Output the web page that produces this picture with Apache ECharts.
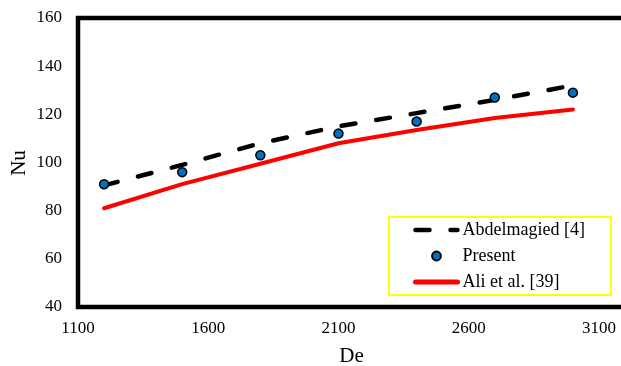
<!DOCTYPE html>
<html>
<head>
<meta charset="utf-8">
<script src="https://cdn.jsdelivr.net/npm/echarts@6/dist/echarts.min.js"></script>
<style>
    html, body { margin: 0; padding: 0; background: #fff; }
    #chart { width: 621px; height: 366px; }
</style>
</head>
<body>
<div id="chart"></div>
<script>
// Nu against De
var deValues = [1200, 1500, 1800, 2100, 2400, 2700, 3000];
var abdelmagied = [90.5, 99, 108, 115, 120.5, 126, 132];
var present = [91, 96, 103, 112, 117, 127, 129];
var aliEtAl = [81, 91, 99.5, 108, 113.5, 118.5, 122];
var seriesNames = ['Abdelmagied [4]', 'Present', 'Ali et al. [39]'];

function pairs(ys) {
    return deValues.map(function (x, i) {
        return [x, ys[i]];
    });
}

var font = 'Liberation Serif';
var myChart = echarts.init(document.getElementById('chart'));
var option = {
    animation: false,
    grid: {
        left: 78,
        top: 18,
        right: -4,
        bottom: 59,
        outerBoundsMode: 'none',
        containLabel: false,
        show: true,
        borderColor: '#000',
        borderWidth: 4.5,
        backgroundColor: '#fff'
    },
    // y axis title, placed by hand
    graphic: [{
        type: 'text',
        x: 19,
        y: 163,
        rotation: Math.PI / 2,
        style: {
            text: 'Nu',
            fontFamily: font,
            fontSize: 21,
            fill: '#000',
            align: 'center',
            verticalAlign: 'middle'
        }
    }],
    legend: {
        orient: 'vertical',
        left: 389,
        top: 217,
        data: [
            { name: seriesNames[0], itemStyle: { opacity: 0 }, lineStyle: { width: 4.5 } },
            { name: seriesNames[1] },
            { name: seriesNames[2], itemStyle: { opacity: 0 }, lineStyle: { width: 5 } }
        ],
        padding: [4, 26, 4, 24],
        itemWidth: 42,
        itemHeight: 11,
        itemGap: 8,
        itemTextGap: 3,
        borderColor: '#FFFF00',
        borderWidth: 2,
        backgroundColor: '#fff',
        textStyle: {
            fontFamily: font,
            fontSize: 18,
            color: '#000',
            lineHeight: 14
        }
    },
    xAxis: {
        type: 'value',
        min: 1100,
        max: 3200,
        interval: 500,
        name: 'De',
        nameLocation: 'middle',
        nameGap: 39,
        nameTextStyle: { fontFamily: font, fontSize: 21, color: '#000' },
        axisLine: { show: false },
        axisTick: { show: false },
        splitLine: { show: false },
        axisLabel: {
            showMaxLabel: false,
            margin: 13,
            fontFamily: font,
            fontSize: 17,
            color: '#000',
            formatter: function (v) { return String(v); }
        }
    },
    yAxis: {
        type: 'value',
        min: 40,
        max: 160,
        interval: 20,
        axisLine: { show: false },
        axisTick: { show: false },
        splitLine: { show: false },
        axisLabel: {
            margin: 16,
            fontFamily: font,
            fontSize: 17,
            color: '#000'
        }
    },
    series: [
        {
            name: seriesNames[0],
            type: 'line',
            data: pairs(abdelmagied),
            symbol: 'none',
            itemStyle: { color: '#000' },
            lineStyle: {
                color: '#000',
                width: 4.5,
                type: [14, 21],
                cap: 'round'
            },
            z: 2
        },
        {
            name: seriesNames[1],
            type: 'line',
            data: pairs(present),
            symbol: 'circle',
            symbolSize: 9,
            itemStyle: {
                color: '#0070C0',
                borderColor: '#000',
                borderWidth: 1.5
            },
            lineStyle: { width: 0, opacity: 0 },
            z: 3
        },
        {
            name: seriesNames[2],
            type: 'line',
            data: pairs(aliEtAl),
            symbol: 'none',
            itemStyle: { color: '#FF0000' },
            lineStyle: {
                color: '#FF0000',
                width: 4,
                cap: 'round'
            },
            z: 1
        }
    ]
};
myChart.setOption(option);
</script>
</body>
</html>
